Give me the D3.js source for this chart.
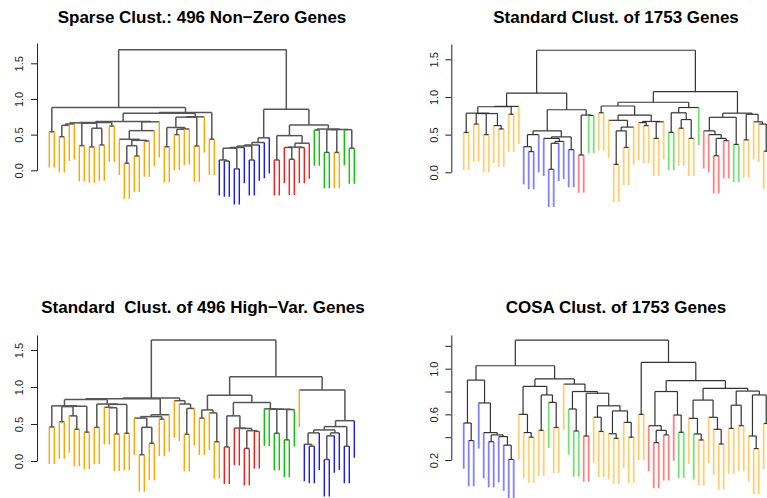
<!DOCTYPE html>
<html><head><meta charset="utf-8">
<script src="https://cdn.jsdelivr.net/npm/d3@7"></script>
<style>body{margin:0;background:#fff}svg{display:block}text{font-family:"Liberation Sans",Arial,Helvetica,sans-serif}</style>
</head><body>
<svg id="chart" width="767" height="498"></svg>
<script>
// ---------------- DATA ----------------
const titles = ["Sparse Clust.: 496 Non\u2212Zero Genes", "Standard Clust. of 1753 Genes",
                "Standard  Clust. of 496 High\u2212Var. Genes", "COSA Clust. of 1753 Genes"];
const ticks1 = [0, 0.5, 1.0, 1.5], tickLabels1 = ["0.0", "0.5", "1.0", "1.5"];
const ticks2 = [0, 0.5, 1.0, 1.5], tickLabels2 = ["0.0", "0.5", "1.0", "1.5"];
const ticks3 = [0, 0.5, 1.0, 1.5], tickLabels3 = ["0.0", "0.5", "1.0", "1.5"];
const ticks4 = [0.2, 0.4, 0.6, 0.8, 1.0, 1.2], tickLabels4 = ["0.2", "", "0.6", "", "1.0", ""];
const hangs = [0.5, 0.5, 0.5, 0.4];
// leaf class colours, as runs in leaf order (o=orange b=blue r=red g=green)
const colorRuns1 = [["o",34],["b",11],["r",8],["g",4],["o",2],["g",3]];
const colorRuns2 = [["o",12],["b",11],["r",2],["g",2],["o",14],["g",2],["o",4],["g",1],["r",6],["g",2],["o",6]];
const colorRuns3 = [["o",35],["r",8],["g",7],["o",1],["b",11]];
const colorRuns4 = [["b",11],["o",6],["g",1],["o",3],["g",3],["r",2],["o",11],["r",6],["g",2],["o",1],["g",1],["o",15]];
// trees: internal node = [mergeHeight, left, right], leaf = leaf index
// ---- panel 1
const t1L = [0.88, [0.54,0,1],
  [0.81,
    [0.80,
      [0.685,
        [0.67,
          [0.665, [0.65,[0.63,[0.47,2,3],4],5], [0.66,[0.346,6,7],[0.59,[0.327,8,9],[0.355,10,11]]]],
          [0.62,12,13]],
        [0.68, [0.556, [0.435, 14, [0.42, [0.345,[0.1,15,16],[0.2,17,18]], [0.41,19,20]]], 21], 22]],
      [0.75, [0.745, [0.6, [0.33,23,24], [0.58,[0.575,[0.5,25,26],27],28]], [0.34,29,30]], 31]],
    [0.435,32,33]]];
const t1R = [0.855,
  [0.455,[0.39,[0.355,[0.34,[0.32,[0.31,[0.145,34,[0.13,35,36]],[0.02,37,38]],39],[0.145,40,41]],42],43],44],
  [0.635,
    [0.486,[0.145,45,46],[0.38,[0.325,[0.32,47,[0.155,48,49]],[0.32,50,51]],52]],
    [0.578,[0.565,53,54],[0.572,[0.57,[0.25,55,56],[0.25,57,58]],[0.57,59,[0.31,60,61]]]]]];
const tree1 = [1.69, t1L, t1R];
// ---- panel 2
const t2L = [1.05,
  [0.875, [0.87, [0.785,[0.53,0,1],[0.78,[0.78,[0.64,2,3],[0.5,4,5]],[0.62,6,[0.575,7,8]]]], [0.77,9,10]], 11],
  [0.83,
    [0.55, [0.5,[0.34,12,[0.275,13,14]],15], [0.47,[0.45,16,[0.41,[0.385,[0.04,17,18],19],20]],[0.3,21,22]]],
    [0.76,[0.23,23,24],[0.755,25,26]]]];
const t2R = [1.07,
  [0.93,
    [0.88, [0.79,27,28],
      [0.76, [0.69,29,[0.6,[0.55,[0.105,30,31],[0.33,32,33]],34]],
             [0.675,[0.66,35,[0.62,36,37]],[0.67,[0.45,38,39],40]]]],
    [0.86, [0.79,[0.53,41,42],[0.7,[0.585,43,44],[0.45,45,46]]], 47]],
  [0.785,
    [0.73, [0.55,48,[0.5,49,[0.45,[0.22,50,51],[0.42,52,53]]]], [0.37,54,55]],
    [0.77, [0.43,56,57], [0.67,58,[0.64,59,[0.28,60,61]]]]]];
const tree2 = [1.62, t2L, t2R];
// ---- panel 3
const t3L = [0.85,
  [0.84,
    [0.83,
      [0.745,[0.46,0,1],[0.74,[0.735,[0.53,2,3],[0.61,4,[0.43,5,6]]],[0.39,7,8]]],
      [0.77,[0.455,9,10],[0.765,[0.725,11,[0.72,12,[0.365,13,14]]],[0.375,15,16]]]],
    [0.625,[0.6,[0.58,17,[0.455,[0.085,18,19],[0.24,20,21]]],[0.565,22,23]],24]],
  [0.815,25,[0.77,26,[0.71,[0.36,27,28],29]]]];
const t3R = [1.14,
  [0.89,
    [0.69,[0.58,30,31],[0.65,32,[0.26,33,34]]],
    [0.79,
      [0.61,[0.19,35,36],[0.445,37,[0.44,38,[0.41,[0.17,39,40],[0.4,41,42]]]]],
      [0.705,43,[0.7,44,[0.7,[0.375,45,46],[0.695,[0.285,47,48],49]]]]]],
  [0.96, 50,
    [0.545,[0.465,[0.42,[0.38,[0.225,51,[0.2,52,53]],54],[0.38,[0.34,[0.02,55,56],57],58]],[0.2,59,60]],61]]];
const tree3 = [1.635, t3L, t3R];
// ---- panel 4
const t4L = [1.026,
  [0.9, [0.524,0,[0.37,1,2]], [0.7,3,[0.44,4,[0.42,[0.36,5,6],[0.405,7,[0.33,8,[0.205,9,10]]]]]]],
  [0.91,
    [0.845, [0.6,11,[0.44,12,[0.4,13,14]]], [0.77,[0.46,15,16],[0.705,17,[0.485,18,19]]]],
    [0.865, 20,
      [0.8, [0.647,21,[0.454,22,23]],
        [0.785,[0.41,24,25],[0.675,[0.575,26,[0.45,27,28]],[0.63,[0.43,29,[0.39,30,31]],[0.53,32,[0.4,33,34]]]]]]]]];
const t4R = [1.055,
  [0.6,35,36],
  [0.895,
    [0.8, [0.5,37,[0.46,[0.352,38,39],[0.42,40,41]]], [0.594,42,[0.443,43,44]]],
    [0.828,
      [0.725, [0.565,45,[0.428,46,[0.375,47,48]]], [0.574,49,[0.469,50,[0.34,51,52]]]],
      [0.804, [0.68,[0.477,53,54],[0.5,55,56]], [0.77,[0.41,57,[0.3,58,59]],[0.52,60,61]]]]]];
const tree4 = [1.25, t4L, t4R];

// ---------------- DRAWING ----------------
const strong = {o:"#FFA500", b:"#1a1aff", r:"#FF1a1a", g:"#00CC00"};
const panels = [
  {tree:tree1, runs:colorRuns1, ticks:ticks1, labels:tickLabels1, hang:hangs[0], title:titles[0],
   axisX:37, xr:[49.3,354.3], yd:[0,1.5], yr:[170.3,63.3], top:43, tx:202, ty:23, soft:false},
  {tree:tree2, runs:colorRuns2, ticks:ticks2, labels:tickLabels2, hang:hangs[1], title:titles[1],
   axisX:451.3, xr:[463.7,768.7], yd:[0,1.5], yr:[172.3,59.3], top:44, tx:616, ty:23, soft:true},
  {tree:tree3, runs:colorRuns3, ticks:ticks3, labels:tickLabels3, hang:hangs[2], title:titles[2],
   axisX:37, xr:[49.3,354.3], yd:[0,1.5], yr:[461,350], top:335, tx:203, ty:313, soft:false},
  {tree:tree4, runs:colorRuns4, ticks:ticks4, labels:tickLabels4, hang:hangs[3], title:titles[3],
   axisX:451.3, xr:[463.7,768.7], yd:[0.2,1.0], yr:[460,368.7], top:335, tx:616, ty:313, soft:true}
];
const svg = d3.select("#chart");
panels.forEach(p => {
  const g = svg.append("g");
  const colors = p.runs.flatMap(([c,n]) => Array(n).fill(c));
  const x = d3.scaleLinear().domain([0,61]).range(p.xr);
  const y = d3.scaleLinear().domain(p.yd).range(p.yr);
  const root = d3.hierarchy(p.tree, d => Array.isArray(d) ? [d[1], d[2]] : null);
  root.eachAfter(n => {
    if (n.children) { n.h = n.data[0]; n.px = (n.children[0].px + n.children[1].px) / 2; }
    else { n.px = x(n.data); }
  });
  const dark = p.soft ? "#333" : "#555";
  const dw = p.soft ? 1.2 : 1.5;
  const internals = root.descendants().filter(n => n.children);
  g.selectAll("line.hz").data(internals).join("line")
    .attr("x1", n => n.children[0].px).attr("x2", n => n.children[1].px)
    .attr("y1", n => y(n.h)).attr("y2", n => y(n.h))
    .attr("stroke", dark).attr("stroke-width", dw);
  const edges = root.descendants().filter(n => n.parent);
  g.selectAll("line.vt").data(edges.filter(n => n.children)).join("line")
    .attr("x1", n => n.px).attr("x2", n => n.px)
    .attr("y1", n => y(n.parent.h)).attr("y2", n => y(n.h))
    .attr("stroke", dark).attr("stroke-width", dw);
  g.selectAll("line.leaf").data(edges.filter(n => !n.children)).join("line")
    .attr("x1", n => n.px).attr("x2", n => n.px)
    .attr("y1", n => y(n.parent.h)).attr("y2", n => y(n.parent.h - p.hang))
    .attr("stroke", n => strong[colors[n.data]])
    .attr("stroke-opacity", p.soft ? 0.55 : 1)
    .attr("stroke-width", p.soft ? 1.8 : 1.4);
  // axis
  const ya = y.copy().domain([p.ticks[0], y.invert(p.top)]).range([y(p.ticks[0]), p.top]);
  const ax = g.append("g").attr("transform", `translate(${p.axisX},0)`)
    .call(d3.axisLeft(ya).tickValues(p.ticks).tickSize(6).tickSizeOuter(0)
      .tickFormat((d,i) => p.labels[i]));
  ax.select(".domain").attr("stroke", "#222");
  ax.selectAll(".tick line").attr("stroke", "#222");
  ax.selectAll(".tick text").attr("x", null).attr("dy", null)
    .attr("transform", "translate(-13.7,0) rotate(-90)")
    .attr("text-anchor", "middle").attr("font-size", 11).attr("fill", "#222");
  g.append("text").attr("x", p.tx).attr("y", p.ty).attr("text-anchor", "middle")
    .style("white-space", "pre")
    .attr("font-size", 17).attr("font-weight", "bold").attr("fill", "#000").text(p.title);
});
</script>
</body></html>
